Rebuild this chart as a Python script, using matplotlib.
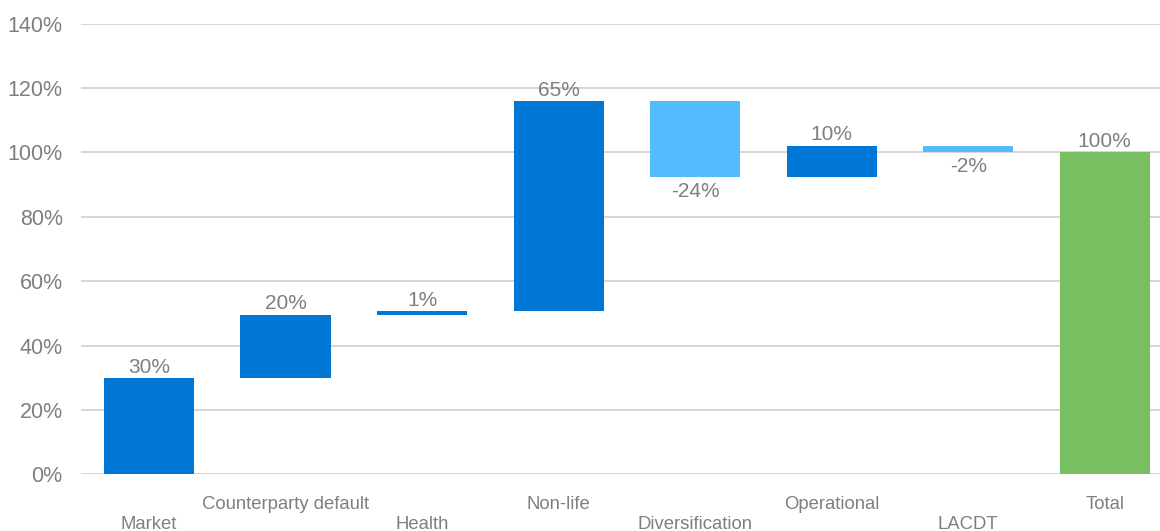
import matplotlib
matplotlib.use("Agg")
import matplotlib.pyplot as plt
import numpy as np

categories = ["Market", "Counterparty default", "Health", "Non-life",
              "Diversification", "Operational", "LACDT", "Total"]
# contributions to the total requirement, in % (last entry is the total)
deltas = [30.0, 19.6, 1.1, 65.3, -23.7, 9.8, -2.1]
total = 100.0
yticks = [0, 20, 40, 60, 80, 100, 120, 140]

DARK = "#0077D5"
LIGHT = "#55BBFF"
GREEN = "#77BF60"
TXT = "#7F7F7F"
GRID = "#D3D3D3"

plt.rcParams["font.family"] = ["Liberation Sans", "DejaVu Sans"]

fig = plt.figure(figsize=(11.6, 5.31), dpi=100)
ax = fig.add_axes([80.7 / 1160, 1 - 474.4 / 531, (1160 - 80.7) / 1160, (474.4 - 23.7) / 531])

x = np.arange(len(categories))
ends = np.cumsum(deltas)
starts = ends - np.array(deltas)
bottoms = list(np.minimum(starts, ends)) + [0.0]
heights = list(np.abs(deltas)) + [total]
colors = [DARK if d >= 0 else LIGHT for d in deltas] + [GREEN]
ax.bar(x, heights, bottom=bottoms, width=0.66, color=colors, zorder=3)

# value labels: above increases, below decreases
values = list(deltas) + [total]
for xi, v, b, h in zip(x, values, bottoms, heights):
    label = f"{round(v):d}%"
    if v >= 0:
        ax.text(xi, b + h + 0.4, label, ha="center", va="bottom",
                fontsize=15, color=TXT, zorder=4)
    else:
        ax.text(xi, b - 1.5, label, ha="center", va="top",
                fontsize=15, color=TXT, zorder=4)

ax.set_ylim(0, 140)
ax.set_xlim(-0.5, 7.5 - 13 / 136.6)
ax.set_yticks(yticks)
ax.set_yticklabels([f"{t}%" for t in yticks])
ax.yaxis.grid(True, color=GRID, linewidth=1.3, zorder=0)
ax.set_axisbelow(True)
ax.tick_params(axis="y", length=0, pad=13, labelsize=15.5, labelcolor=TXT)
ax.set_xticks([])
for s in ax.spines.values():
    s.set_visible(False)

# staggered category labels
for xi, name in zip(x, categories):
    yoff = -30 if xi % 2 else -50
    ax.annotate(name, xy=(xi, 0), xycoords="data", xytext=(0, yoff),
                textcoords="offset pixels",
                ha="center", va="center", fontsize=13.3, color=TXT,
                annotation_clip=False)

fig.savefig("out.png", dpi=100)
